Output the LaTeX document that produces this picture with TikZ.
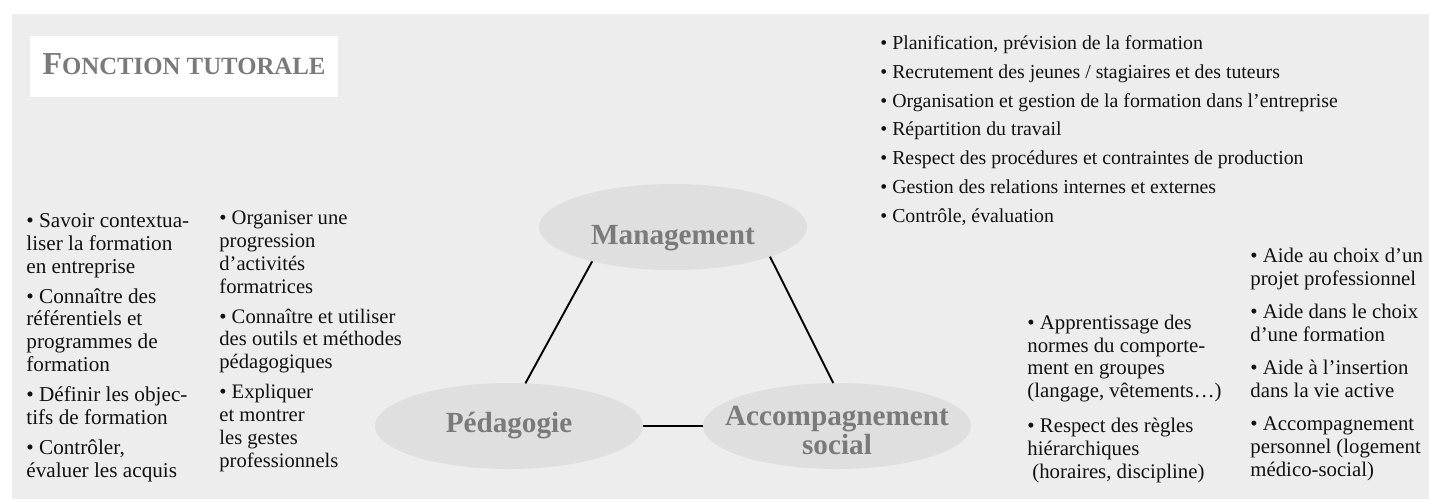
\documentclass[tikz,border=0pt]{standalone}
\usepackage{fontspec}
\setmainfont{Liberation Serif}
\usetikzlibrary{shapes.geometric}
\definecolor{panel}{HTML}{EDEDED}
\definecolor{oval}{HTML}{DFDFDF}
\definecolor{labelgrey}{HTML}{7A7A7A}
\definecolor{ink}{HTML}{111111}

\begin{document}
\begin{tikzpicture}[x=0.5pt,y=-0.5pt,
  pole/.style={ellipse, fill=oval, minimum width=134pt, minimum height=43pt,
    inner sep=0pt, outer sep=0pt},
  polelabel/.style={anchor=base, inner sep=0pt, align=center, text=labelgrey,
    font=\bfseries\fontsize{14.6}{13}\selectfont},
  % multi-line nodes are placed by the baseline of their last line
  listtext/.style={anchor=base west, align=left, inner sep=0pt, text=ink},
  link/.style={line width=0.95pt, black}]

% page and grey panel
\useasboundingbox (0,0) rectangle (1429,499);
\fill[white] (0,0) rectangle (1429,499);
\fill[panel] (12,14) rectangle (1429,499);

% title
\node[fill=white, minimum width=154pt, minimum height=30.5pt, inner sep=0pt]
  (titlebox) at (184,66.5) {};
\node[anchor=base, inner sep=0pt, text=labelgrey, font=\bfseries] (title) at (184,74)
  {{\fontsize{16}{16}\selectfont F}{\fontsize{12.4}{16}\selectfont ONCTION TUTORALE}};

% the three poles
\node[pole] (mgmt) at (673,227) {};
\node[pole] (peda) at (509,426) {};
\node[pole] (acc)  at (837,426) {};
\node[polelabel] (mlabel) at (673,244) {Management};
\node[polelabel] (plabel) at (509,432) {Pédagogie};
\node[polelabel] (alabel) at (837,454) {Accompagnement\\social};

% links between the poles
\draw[link] (mgmt.203.7) -- (peda.69.6);
\draw[link] (mgmt.-17.4) -- (acc.95);
\draw[link] (peda.east) -- (acc.west);

% pedagogy tasks
\node[listtext, font=\fontsize{10.6}{11.4}\selectfont] (pedaA) at (26,477)
  {• Savoir contextua-\\liser la formation\\en entreprise\\[3.6pt]%
   • Connaître des\\référentiels  et\\programmes de\\formation\\[3.6pt]%
   • Définir les objec-\\tifs de formation\\[3.6pt]%
   • Contrôler,\\évaluer les acquis};
\node[listtext, font=\fontsize{10.3}{11.4}\selectfont] (pedaB) at (219,467)
  {• Organiser une\\progression\\d’activités\\formatrices\\[3.6pt]%
   • Connaître et utiliser\\des outils et méthodes\\pédagogiques\\[3.6pt]%
   • Expliquer\\et montrer\\les gestes\\professionnels};

% management tasks
\node[listtext, font=\fontsize{9.9}{14.35}\selectfont] (mgmtlist) at (880,222)
  {• Planification, prévision de la formation\\
   • Recrutement des jeunes / stagiaires et des tuteurs\\
   • Organisation et gestion de la formation dans l’entreprise\\
   • Répartition du travail\\
   • Respect des procédures et contraintes de production\\
   • Gestion des relations internes et externes\\
   • Contrôle, évaluation};

% social support tasks
\node[listtext, font=\fontsize{10.4}{11.4}\selectfont] (accA) at (1027,478)
  {• Apprentissage des\\normes du comporte-\\ment en groupes\\(langage, vêtements…)\\[6pt]%
   • Respect des règles\\hiérarchiques\\\hspace*{2.5pt}(horaires, discipline)};
\node[listtext, font=\fontsize{10.4}{11.5}\selectfont] (accB) at (1250,476)
  {• Aide au choix d’un\\projet professionnel\\[5pt]%
   • Aide dans le choix\\d’une formation\\[5pt]%
   • Aide à l’insertion\\dans la vie active\\[5pt]%
   • Accompagnement\\personnel (logement\\médico-social)};
\end{tikzpicture}
\end{document}
